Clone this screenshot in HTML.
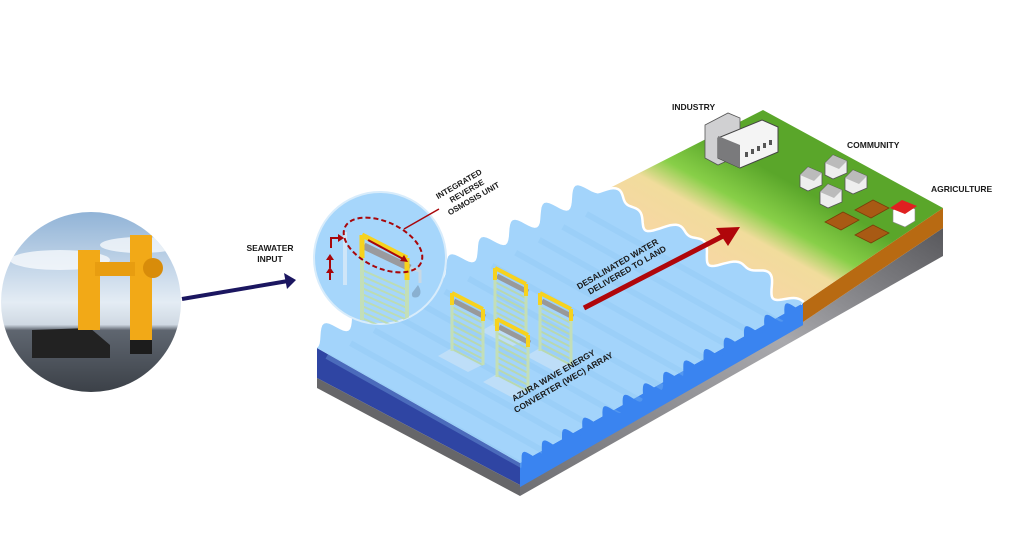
<!DOCTYPE html>
<html><head><meta charset="utf-8">
<style>
html,body{margin:0;padding:0;background:#fff;}
svg{display:block;}
text{font-family:"Liberation Sans",sans-serif;font-weight:bold;fill:#1a1a1a;}
</style></head>
<body>
<svg id="s" width="1024" height="557" viewBox="0 0 1024 557" xmlns="http://www.w3.org/2000/svg">
<defs>
<linearGradient id="land" gradientUnits="userSpaceOnUse" x1="700" y1="250" x2="750" y2="160">
<stop offset="0" stop-color="#f6d8a2"/><stop offset="0.35" stop-color="#f1dc9c"/><stop offset="0.6" stop-color="#88cf48"/><stop offset="1" stop-color="#5aa62a"/>
</linearGradient>
<linearGradient id="side" x1="0" y1="1" x2="1" y2="0">
<stop offset="0" stop-color="#6e6e72"/><stop offset="0.6" stop-color="#a9a9ad"/><stop offset="1" stop-color="#58585c"/>
</linearGradient>
<linearGradient id="sky" x1="0" y1="0" x2="0" y2="1">
<stop offset="0" stop-color="#8fb2d6"/><stop offset="0.5" stop-color="#e4ecf4"/><stop offset="0.62" stop-color="#cfd9e3"/><stop offset="0.65" stop-color="#5f6670"/><stop offset="1" stop-color="#3a3f46"/>
</linearGradient>
<clipPath id="pc"><circle cx="91" cy="302" r="90"/></clipPath>
<clipPath id="mc"><circle cx="380" cy="258" r="66"/></clipPath>
</defs>

<g clip-path="url(#pc)">
<rect x="0" y="210" width="185" height="185" fill="url(#sky)"/>
<ellipse cx="60" cy="260" rx="50" ry="10" fill="#fff" opacity=".7"/>
<ellipse cx="140" cy="245" rx="40" ry="8" fill="#fff" opacity=".7"/>
<path d="M32 330 L90 328 L110 345 L110 358 L32 358 Z" fill="#222"/>
<rect x="78" y="250" width="22" height="80" fill="#f2a917"/>
<rect x="130" y="235" width="22" height="115" fill="#f2a917"/>
<rect x="95" y="262" width="40" height="14" fill="#e89d10"/>
<circle cx="153" cy="268" r="10" fill="#d88c0a"/>
<rect x="130" y="340" width="22" height="14" fill="#1c1c1c"/>
</g>
<line x1="182" y1="299" x2="288" y2="281" stroke="#1b1660" stroke-width="4"/>
<path d="M296 280 L284 273 L287 289 Z" fill="#1b1660"/>
<text x="270" y="251" font-size="8.5" text-anchor="middle">SEAWATER</text>
<text x="270" y="262" font-size="8.5" text-anchor="middle">INPUT</text>

<g id="slab"></g>

<text x="672" y="110" font-size="8.5">INDUSTRY</text>
<text x="847" y="148" font-size="8.5">COMMUNITY</text>
<text x="931" y="192" font-size="8.5">AGRICULTURE</text>
<g transform="translate(585,300) rotate(-30)"><text x="0" y="-12" font-size="8.5">DESALINATED WATER</text><text x="7" y="-2" font-size="8.5">DELIVERED TO LAND</text></g>
<g transform="translate(520,412) rotate(-30)"><text x="0" y="-12" font-size="8.5">AZURA WAVE ENERGY</text><text x="-4" y="-1" font-size="8.5">CONVERTER (WEC) ARRAY</text></g>
<g transform="translate(450,220) rotate(-30)"><text x="0" y="-24" font-size="8">INTEGRATED</text><text x="10" y="-14" font-size="8">REVERSE</text><text x="2" y="-4" font-size="8">OSMOSIS UNIT</text></g>
</svg>
<script>
var NS="http://www.w3.org/2000/svg",g=document.getElementById('slab');
function el(t,a){var e=document.createElementNS(NS,t);for(var k in a)e.setAttribute(k,a[k]);g.appendChild(e);return e;}
function wave(x1,y1,x2,y2,n,amp,dir){var s="",N=n*16;var dx=x2-x1,dy=y2-y1,L=Math.hypot(dx,dy),nx=dy/L*dir,ny=-dx/L*dir;
for(var i=0;i<=N;i++){var t=i/N,p=t*n*2*Math.PI,h=amp*(0.5-0.5*Math.cos(p));s+=(i?" L":"")+(x1+dx*t+nx*h).toFixed(1)+" "+(y1+dy*t+ny*h).toFixed(1);}return s;}
function coast(){var pts=[],N=120;for(var i=0;i<=N;i++){var t=i/N,x=600+203*t,y=193+110*t;var o=7*Math.sin(t*6*Math.PI)+4*Math.sin(t*13*Math.PI);pts.push([x+o*0.8,y-o*0.9]);}return pts;}
var C=coast();var cs=C.map(function(p,i){return (i?"L":"")+p[0].toFixed(1)+" "+p[1].toFixed(1)}).join(" ");
el('path',{d:"M520 485 L803 322 L943 228 L943 256 L520 496 Z",fill:"url(#side)"});
el('path',{d:"M803 303 L943 208 L943 228 L803 322 Z",fill:"#b86a12"});
el('path',{d:"M317 348 L520 463 L520 485 L317 378 Z",fill:"#2f45a3"});
el('path',{d:"M317 378 L520 485 L520 496 L317 388 Z",fill:"#666669"});
el('path',{d:"M520 463 L803 303 L803 325 L520 487 Z",fill:"#3a84f0"});
el('path',{d:"M"+cs.slice(1)+" L943 208 L763 110 L600 193 Z",fill:"url(#land)"});
el('path',{d:"M"+cs.slice(1),fill:"none",stroke:"#fff","stroke-width":5});
var back=wave(317,348,600,193,9,18,1);
el('path',{d:"M"+back+" "+cs.replace(/^L?/,"L")+" L803 303 L520 463 Z",fill:"#a3d4fb"});
for(var k=0;k<12;k++){var a=k/12;var sx=317+283*a,sy=348-155*a;el('line',{x1:sx+10,y1:sy+8,x2:sx+210,y2:sy+120,stroke:"#8cc4f2","stroke-width":6,opacity:.3});}
// scallops along front-right edge (dark blue bumps rising into water)
el('path',{d:"M"+wave(520,470,803,310,14,14,1)+" L803 325 L520 487 Z",fill:"#3a84f0"});
// industry
el('path',{d:"M705 125 L728 113 L740 118 L740 155 L718 165 L705 158 Z",fill:"#d0d0d2",stroke:"#555","stroke-width":.8});
el('path',{d:"M718 138 L762 120 L778 127 L778 152 L740 168 L718 158 Z",fill:"#f4f4f4",stroke:"#444","stroke-width":1});
el('path',{d:"M718 158 L740 168 L740 145 L718 136 Z",fill:"#7a7a7c"});
for(var w=0;w<5;w++)el('rect',{x:745+w*6,y:152-w*3,width:3,height:5,fill:"#555"});
[[800,175],[825,163],[845,178],[820,192]].forEach(function(h){el('path',{d:"M"+h[0]+" "+h[1]+" l8 -8 l14 6 l0 12 l-14 6 l-8 -4 Z",fill:"#eee",stroke:"#555","stroke-width":.8});el('path',{d:"M"+h[0]+" "+h[1]+" l8 -8 l14 6 l-8 8 Z",fill:"#bbb"});});
[[825,222],[855,210],[855,235]].forEach(function(f){el('path',{d:"M"+f[0]+" "+f[1]+" l18 -10 l16 8 l-18 10 Z",fill:"#a85a14",stroke:"#7a3e08","stroke-width":.8});});
el('path',{d:"M893 210 l10 -6 l12 5 l0 12 l-10 6 l-12 -5 Z",fill:"#fff",stroke:"#888","stroke-width":.6});
el('path',{d:"M890 208 l12 -8 l15 6 l-12 8 Z",fill:"#e02020"});
function wec(x,y){el('path',{d:"M"+x+" "+(y+55)+" l-14 8 l30 16 l16 -8 Z",fill:"#c4e0f8",opacity:.8});
for(var j=0;j<8;j++)el('line',{x1:x,y1:y+14+j*6,x2:x+31,y2:y+30+j*6,stroke:"#b8d8b0","stroke-width":2});
el('line',{x1:x,y1:y,x2:x,y2:y+58,stroke:"#c3dfb8","stroke-width":3});el('line',{x1:x+31,y1:y+16,x2:x+31,y2:y+72,stroke:"#c3dfb8","stroke-width":3});
el('line',{x1:x+2,y1:y+8,x2:x+33,y2:y+24,stroke:"#999","stroke-width":5});
el('line',{x1:x,y1:y,x2:x+31,y2:y+16,stroke:"#f7d21e","stroke-width":4});
el('line',{x1:x,y1:y,x2:x,y2:y+12,stroke:"#f7d21e","stroke-width":4});el('line',{x1:x+31,y1:y+16,x2:x+31,y2:y+28,stroke:"#f7d21e","stroke-width":4});}
wec(495,268);wec(452,293);wec(540,293);wec(497,319);
el('line',{x1:584,y1:308,x2:725,y2:235,stroke:"#b0060a","stroke-width":5});
el('path',{d:"M740 227 L716 228 L728 246 Z",fill:"#b0060a"});
el('circle',{cx:380,cy:258,r:66,fill:"#a6d6fb",stroke:"#d8ecfb","stroke-width":2});
var g2=document.createElementNS(NS,'g');g2.setAttribute('clip-path','url(#mc)');g.appendChild(g2);var G=g;g=g2;
for(var j=0;j<10;j++)el('line',{x1:362,y1:270+j*6,x2:407,y2:290+j*6,stroke:"#bcdcb4","stroke-width":2});
el('line',{x1:362,y1:235,x2:362,y2:320,stroke:"#c3dfb8","stroke-width":4});el('line',{x1:407,y1:258,x2:407,y2:330,stroke:"#c3dfb8","stroke-width":4});
el('line',{x1:364,y1:246,x2:410,y2:268,stroke:"#9a9a9e","stroke-width":7});
el('line',{x1:362,y1:235,x2:407,y2:258,stroke:"#f7d21e","stroke-width":5});
el('line',{x1:362,y1:235,x2:362,y2:258,stroke:"#f7d21e","stroke-width":5});el('line',{x1:407,y1:258,x2:407,y2:280,stroke:"#f7d21e","stroke-width":5});
el('line',{x1:345,y1:232,x2:345,y2:285,stroke:"#cfe6f8","stroke-width":4});
el('path',{d:"M418 285 q5 8 0 12 q-7 2 -6 -4 Z",fill:"#8ab0d0"});
el('path',{d:"M410 268 l10 3 l0 12",fill:"none",stroke:"#c8d8e4","stroke-width":3});
g=G;
el('ellipse',{cx:383,cy:245,rx:42,ry:23,transform:"rotate(25 383 245)",fill:"none",stroke:"#a8060a","stroke-width":2,"stroke-dasharray":"5 3"});
el('line',{x1:404,y1:229,x2:439,y2:209,stroke:"#a8060a","stroke-width":1.5});
el('line',{x1:368,y1:240,x2:405,y2:260,stroke:"#a8060a","stroke-width":2});
el('path',{d:"M408 262 l-8 -1 l4 -6 Z",fill:"#a8060a"});
el('path',{d:"M330 268 l0 -10 M330 280 l0 -8",stroke:"#a8060a","stroke-width":2});
el('path',{d:"M326 260 l4 -6 l4 6 Z M326 273 l4 -6 l4 6 Z",fill:"#a8060a"});
el('path',{d:"M331 248 l0 -10 l8 0",fill:"none",stroke:"#a8060a","stroke-width":2});
el('path',{d:"M338 234 l6 4 l-6 4 Z",fill:"#a8060a"});
</script>
</body></html>
